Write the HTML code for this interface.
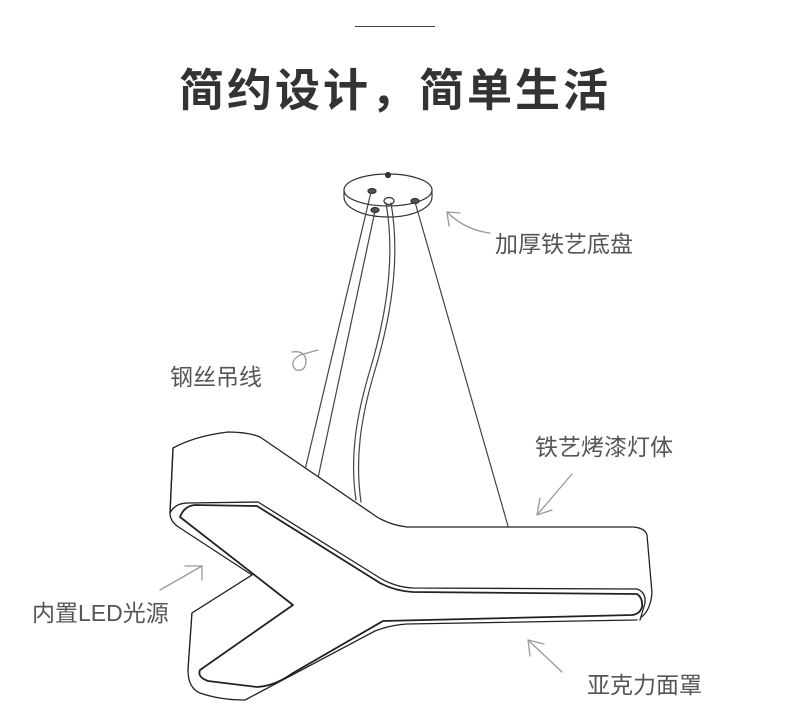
<!DOCTYPE html>
<html><head><meta charset="utf-8"><style>
html,body{margin:0;padding:0;background:#fff;}
body{width:790px;height:720px;position:relative;overflow:hidden;font-family:"Liberation Sans","Noto Sans CJK SC",sans-serif;}
.t{position:absolute;white-space:nowrap;}
</style></head><body>
<div class="t" style="left:355px;top:26px;width:80px;height:1px;background:#444;"></div>
<div class="t" style="left:0;width:790px;text-align:center;top:54px;font-size:45px;font-weight:bold;color:#333;letter-spacing:3px;">简约设计，简单生活</div>
<svg width="790" height="720" style="position:absolute;left:0;top:0" fill="none" stroke-linejoin="round" stroke-linecap="round">
<g stroke="#333" stroke-width="1.2">
<path d="M344,190 L344,197 A44,20 0 0 0 432,197 L432,190"/>
<ellipse cx="388" cy="190" rx="44" ry="16" fill="#fff"/>
<circle cx="388" cy="175" r="2.5" fill="#333"/>
<ellipse cx="372" cy="191" rx="4" ry="2.5" fill="#555"/>
<ellipse cx="415" cy="201" rx="4" ry="2.5" fill="#555"/>
<ellipse cx="375" cy="210" rx="4" ry="2.5" fill="#555"/>
<ellipse cx="389" cy="201" rx="5" ry="3.5"/>
</g>
<g stroke="#444" stroke-width="1.2">
<line x1="371" y1="192" x2="305" y2="470"/>
<line x1="375" y1="211" x2="318" y2="478"/>
<line x1="415" y1="202" x2="508" y2="526"/>
<path d="M386,203 C396,260 385,320 370,370 C355,420 350,460 356,500"/>
<path d="M391,203 C401,260 390,320 375,370 C360,420 355,460 361,502"/>
</g>
<g stroke="#222" stroke-width="1.3" fill="#fff">
<path d="M173,448 Q195,436 228,432 Q248,432 260,437 L377,517 Q390,525 407,527 L633,527 Q645,528 647,535 L652,593 Q650,615 636,620 L407,624 Q390,625 375,631 L245,700 Q220,700 200,693 Q188,688 188,670 L192,613 L252,575 L180,528 Q170,522 170,513 Z"/>
<path d="M173,448 L170,513"/>
<path d="M170,513 Q175,503 188,503 L258,502 L380,578 Q395,587 413,588 L637,589 Q646,592 645,603 L640,620"/>
<path d="M180,517 Q184,506 195,505 L257,506 L380,583 Q395,591 413,592 L637,594 Q643,598 642,607 Q640,614 632,615 L383,621 L293,673 Q275,686 257,687 L208,681 Q197,677 200,670 L293,605 Z" stroke-width="1.8"/>
<path d="M252,575 L192,613 L188,670"/>
</g>
<g stroke="#999" stroke-width="1.3">
<path d="M490,233 Q465,230 447,212"/><path d="M447,212 L449,226 M447,212 L460,213"/>
<path d="M318,350 L300,355 Q288,362 296,370 Q306,372 306,360 Q304,350 292,352"/>
<line x1="572" y1="474" x2="537" y2="515"/><path d="M537,515 L540,498 M537,515 L552,510"/>
<line x1="160" y1="590" x2="202" y2="566"/><path d="M202,566 L185,566 M202,566 L202,580"/>
<line x1="562" y1="672" x2="528" y2="640"/><path d="M528,640 L530,656 M528,640 L544,644"/>
</g>
</svg>
<div class="t" style="left:495px;top:225px;font-size:23px;color:#555;">加厚铁艺底盘</div>
<div class="t" style="left:170px;top:358px;font-size:23px;color:#555;">钢丝吊线</div>
<div class="t" style="left:535px;top:428px;font-size:23px;color:#555;">铁艺烤漆灯体</div>
<div class="t" style="left:32px;top:594px;font-size:23px;color:#555;">内置LED光源</div>
<div class="t" style="left:587px;top:666px;font-size:23px;color:#555;">亚克力面罩</div>
</body></html>
